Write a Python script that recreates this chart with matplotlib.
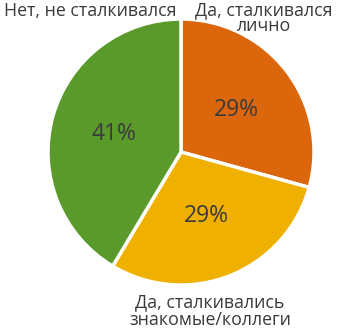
import matplotlib
matplotlib.use("Agg")
import matplotlib.pyplot as plt
import numpy as np

categories = ["Да, сталкивался\nлично", "Да, сталкивались\nзнакомые/коллеги", "Нет, не сталкивался"]
values = [29, 29, 41]
pct_labels = ["29%", "29%", "41%"]
colors = ["#DB660C", "#EFB000", "#5A9A2A"]

plt.rcParams['font.family'] = ['Open Sans', 'DejaVu Sans']

fig = plt.figure(figsize=(3.38, 3.34), dpi=100)
ax = fig.add_axes([0, 0, 1, 1])
wedges, _ = ax.pie(values, colors=colors, startangle=90, counterclock=False,
                   radius=1.0, wedgeprops=dict(edgecolor="white", linewidth=2.5))
total = sum(values)
ang = 90.0
for w, v, p in zip(wedges, values, pct_labels):
    mid = ang - 360.0 * v / total / 2
    ang -= 360.0 * v / total
    r = 0.52
    ax.text(r * np.cos(np.radians(mid)), r * np.sin(np.radians(mid)), p,
            ha="center", va="center", fontsize=16.5, color="#3a3a3a")

s = 133.0
ax.set_xlim(-181 / s, (338 - 181) / s)
ax.set_ylim(-(334 - 152) / s, 152 / s)
ax.set_aspect("equal")
ax.axis("off")

ax.text(90 / 338, 1 - 11 / 334, categories[2], transform=ax.transAxes,
        ha="center", va="center", fontsize=12.8, color="#3a3a3a")
ax.text(264 / 338, 1 - 18 / 334, categories[0], transform=ax.transAxes,
        ha="center", va="center", fontsize=12.8, color="#3a3a3a", linespacing=0.85)
ax.text(210 / 338, 1 - 311 / 334, categories[1], transform=ax.transAxes,
        ha="center", va="center", fontsize=12.8, color="#3a3a3a", linespacing=0.95)

fig.savefig("out.png", dpi=100)
